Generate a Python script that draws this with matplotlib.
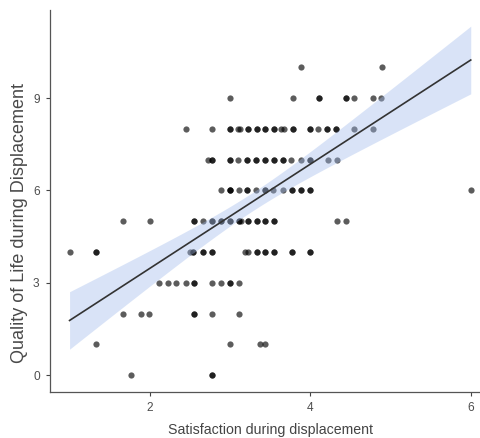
import numpy as np
import matplotlib
matplotlib.use("Agg")
import matplotlib.pyplot as plt

# Satisfaction values (x) observed at each Quality-of-Life level (y)
# (repeated values = overlapping, darker dots)
sat_q10 = [3.89, 4.89]
sat_q9 = [3.00, 3.78, 4.11, 4.11, 4.44, 4.44, 4.55, 4.78, 4.88]
sat_q8 = [2.45, 2.78, 3.00, 3.00, 3.10, 3.13, 3.22, 3.22, 3.33, 3.33, 3.44,
          3.44, 3.55, 3.55, 3.64, 3.67, 3.78, 3.78, 4.00, 4.00, 4.10, 4.21,
          4.21, 4.32, 4.32, 4.55, 4.78]
sat_q7 = [2.72, 2.78, 2.78, 3.00, 3.00, 3.10, 3.21, 3.21, 3.32, 3.32, 3.43,
          3.43, 3.55, 3.55, 3.66, 3.66, 3.76, 3.89, 4.00, 4.00, 4.22, 4.33]
sat_q6 = [2.89, 3.00, 3.00, 3.00, 3.11, 3.21, 3.21, 3.32, 3.43, 3.43, 3.54,
          3.66, 3.77, 3.77, 3.88, 3.88, 4.00, 4.00, 6.00]
sat_q5 = [1.67, 2.00, 2.55, 2.55, 2.66, 2.78, 2.78, 2.89, 2.89, 3.00, 3.00,
          3.11, 3.11, 3.14, 3.22, 3.22, 3.33, 3.33, 3.44, 3.44, 3.55, 3.55,
          4.33, 4.44]
sat_q4 = [1.00, 1.33, 1.33, 2.50, 2.54, 2.54, 2.66, 2.66, 2.78, 2.78, 3.19,
          3.23, 3.33, 3.33, 3.44, 3.44, 3.55, 3.55, 3.77, 3.77, 4.00, 4.00]
sat_q3 = [2.11, 2.23, 2.33, 2.45, 2.55, 2.55, 2.78, 2.89, 3.00, 3.00, 3.11]
sat_q2 = [1.67, 1.89, 1.99, 2.55, 2.55, 2.78, 3.11]
sat_q1 = [1.33, 3.00, 3.37, 3.44]
sat_q0 = [1.77, 2.78, 2.78]

qol_levels = [10, 9, 8, 7, 6, 5, 4, 3, 2, 1, 0]
sat_rows = [sat_q10, sat_q9, sat_q8, sat_q7, sat_q6, sat_q5, sat_q4,
            sat_q3, sat_q2, sat_q1, sat_q0]

x_ticks = [2, 4, 6]
y_ticks = [0, 3, 6, 9]
x_label = "Satisfaction during displacement"
y_label = "Quality of Life during Displacement"

x = np.concatenate([np.array(r, float) for r in sat_rows])
y = np.concatenate([np.full(len(r), q, float) for r, q in zip(sat_rows, qol_levels)])

# OLS fit with 95% confidence band (like geom_smooth(method='lm'))
n = len(x)
slope, intercept = np.polyfit(x, y, 1)
resid = y - (intercept + slope * x)
s = np.sqrt(np.sum(resid ** 2) / (n - 2))
xbar = x.mean()
sxx = np.sum((x - xbar) ** 2)
xs = np.linspace(x.min(), x.max(), 80)
yfit = intercept + slope * xs
se = s * np.sqrt(1.0 / n + (xs - xbar) ** 2 / sxx)
tval = 1.976
lo, hi = yfit - tval * se, yfit + tval * se

plt.rcParams['font.family'] = ['Liberation Sans', 'DejaVu Sans']

W, H = 480, 438
fig = plt.figure(figsize=(W / 100, H / 100), dpi=100)
left_px, right_px, top_px, bottom_px = 49.5, 480, 10, 392.3
ax = fig.add_axes([left_px / W, (H - bottom_px) / H,
                   (right_px - left_px) / W, (bottom_px - top_px) / H])

ax.scatter(x, y, s=20, color='black', alpha=0.64, linewidths=0, zorder=2)
ax.fill_between(xs, lo, hi, color=(0.635, 0.733, 0.92), alpha=0.4,
                linewidth=0, zorder=3)
ax.plot(xs, yfit, color='#333333', linewidth=1.2, zorder=4)

ax.set_xlim(0.75, 1 + (480 - 69.9) / 80.17)
ax.set_ylim(-0.56, 11.86)
ax.set_xticks(x_ticks)
ax.set_yticks(y_ticks)
ax.set_xticklabels([str(t) for t in x_ticks])
ax.set_yticklabels([str(t) for t in y_ticks])

for sp in ['top', 'right']:
    ax.spines[sp].set_visible(False)
for sp in ['left', 'bottom']:
    ax.spines[sp].set_color('#555555')
    ax.spines[sp].set_linewidth(0.9)

ax.tick_params(axis='both', length=2.6, width=0.8, color='#444444',
               labelcolor='#4d4d4d', labelsize=8.6, pad=4.5)

ax.set_xlabel(x_label, fontsize=10.2, color='#444444')
ax.set_ylabel(y_label, fontsize=13, color='#4a4a4a')
ax.xaxis.set_label_coords((270.7 - left_px) / (right_px - left_px), -0.081)
ax.yaxis.set_label_coords(-0.050, 0.442)

fig.savefig("out.png", dpi=100)
